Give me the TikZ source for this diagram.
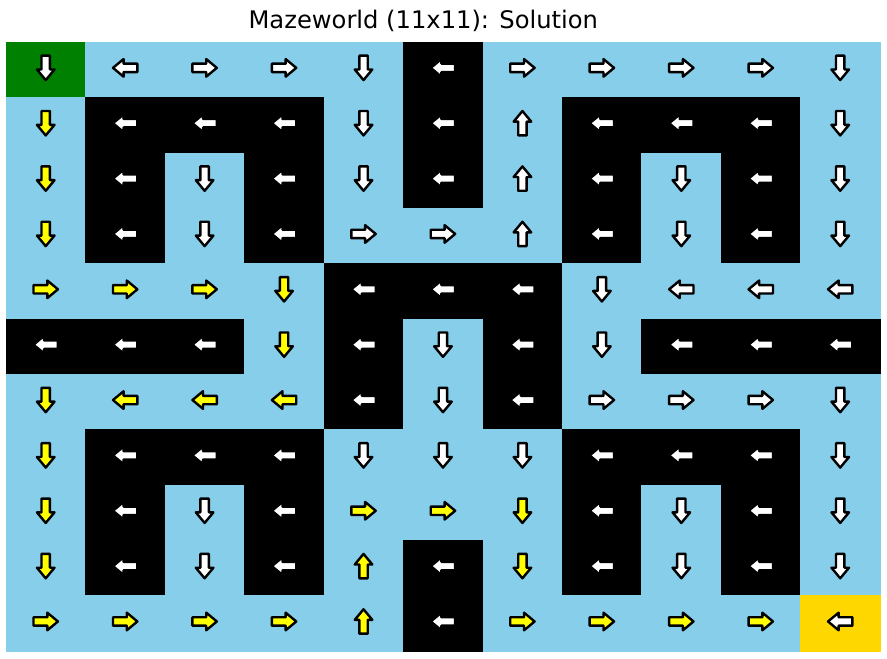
\documentclass[tikz,border=0pt]{standalone}
\usepackage{fontspec}
\setmainfont{DejaVu Sans}
\usepackage{xcolor}
% cell backgrounds by kind: s start, e free, w wall, p solution path, g goal
\definecolor{bgs}{RGB}{0,128,0}
\definecolor{bge}{RGB}{135,206,235}
\definecolor{bgw}{RGB}{0,0,0}
\definecolor{bgp}{RGB}{135,206,235}
\definecolor{bgg}{RGB}{255,215,0}
% arrow fills by kind
\definecolor{ars}{RGB}{255,255,255}
\definecolor{are}{RGB}{255,255,255}
\definecolor{arw}{RGB}{255,255,255}
\definecolor{arp}{RGB}{255,255,0}
\definecolor{arg}{RGB}{255,255,255}
\tikzset{
  cell/.style={rectangle, inner sep=0pt, minimum width=79.45pt,
               minimum height=55.36pt, line width=0.4pt},
  arrowline/.style={draw=black, line width=2.4pt, line join=round},
  pics/policyarrow/.style={code={
    \path[arrowline, fill=#1] (-12.2,-4.2) -- (1.6,-4.2) -- (1.6,-8.8) -- (12.2,0)
      -- (1.6,8.8) -- (1.6,4.2) -- (-12.2,4.2) -- cycle;
  }},
}
\begin{document}
\begin{tikzpicture}[x=1pt, y=1pt]
  \useasboundingbox[fill=white] (0,0) rectangle (887,659);
  \node[font=\fontsize{24.2}{29}\selectfont, anchor=base, inner sep=0pt] (title) at (423.3,630)
    {Mazeworld (11x11): Solution};
  % grid, top row first: kind/angle of the arrow
  \foreach \cells [count=\r from 0] in {
    {s/-90, e/180, e/0, e/0, e/-90, w/180, e/0, e/0, e/0, e/0, e/-90},
    {p/-90, w/180, w/180, w/180, e/-90, w/180, e/90, w/180, w/180, w/180, e/-90},
    {p/-90, w/180, e/-90, w/180, e/-90, w/180, e/90, w/180, e/-90, w/180, e/-90},
    {p/-90, w/180, e/-90, w/180, e/0, e/0, e/90, w/180, e/-90, w/180, e/-90},
    {p/0, p/0, p/0, p/-90, w/180, w/180, w/180, e/-90, e/180, e/180, e/180},
    {w/180, w/180, w/180, p/-90, w/180, e/-90, w/180, e/-90, w/180, w/180, w/180},
    {p/-90, p/180, p/180, p/180, w/180, e/-90, w/180, e/0, e/0, e/0, e/-90},
    {p/-90, w/180, w/180, w/180, e/-90, e/-90, e/-90, w/180, w/180, w/180, e/-90},
    {p/-90, w/180, e/-90, w/180, p/0, p/0, p/-90, w/180, e/-90, w/180, e/-90},
    {p/-90, w/180, e/-90, w/180, p/90, w/180, p/-90, w/180, e/-90, w/180, e/-90},
    {p/0, p/0, p/0, p/0, p/90, w/180, p/0, p/0, p/0, p/0, g/180}%
  }{
    \foreach \k/\a [count=\c from 0] in \cells {
      \node[cell, fill=bg\k, draw=bg\k] (c-\r-\c) at ({6+(\c+0.5)*79.45}, {617-(\r+0.5)*55.36}) {};
      \pic[rotate=\a] at ([yshift=1.8pt]c-\r-\c) {policyarrow=ar\k};
    }
  }
\end{tikzpicture}
\end{document}
